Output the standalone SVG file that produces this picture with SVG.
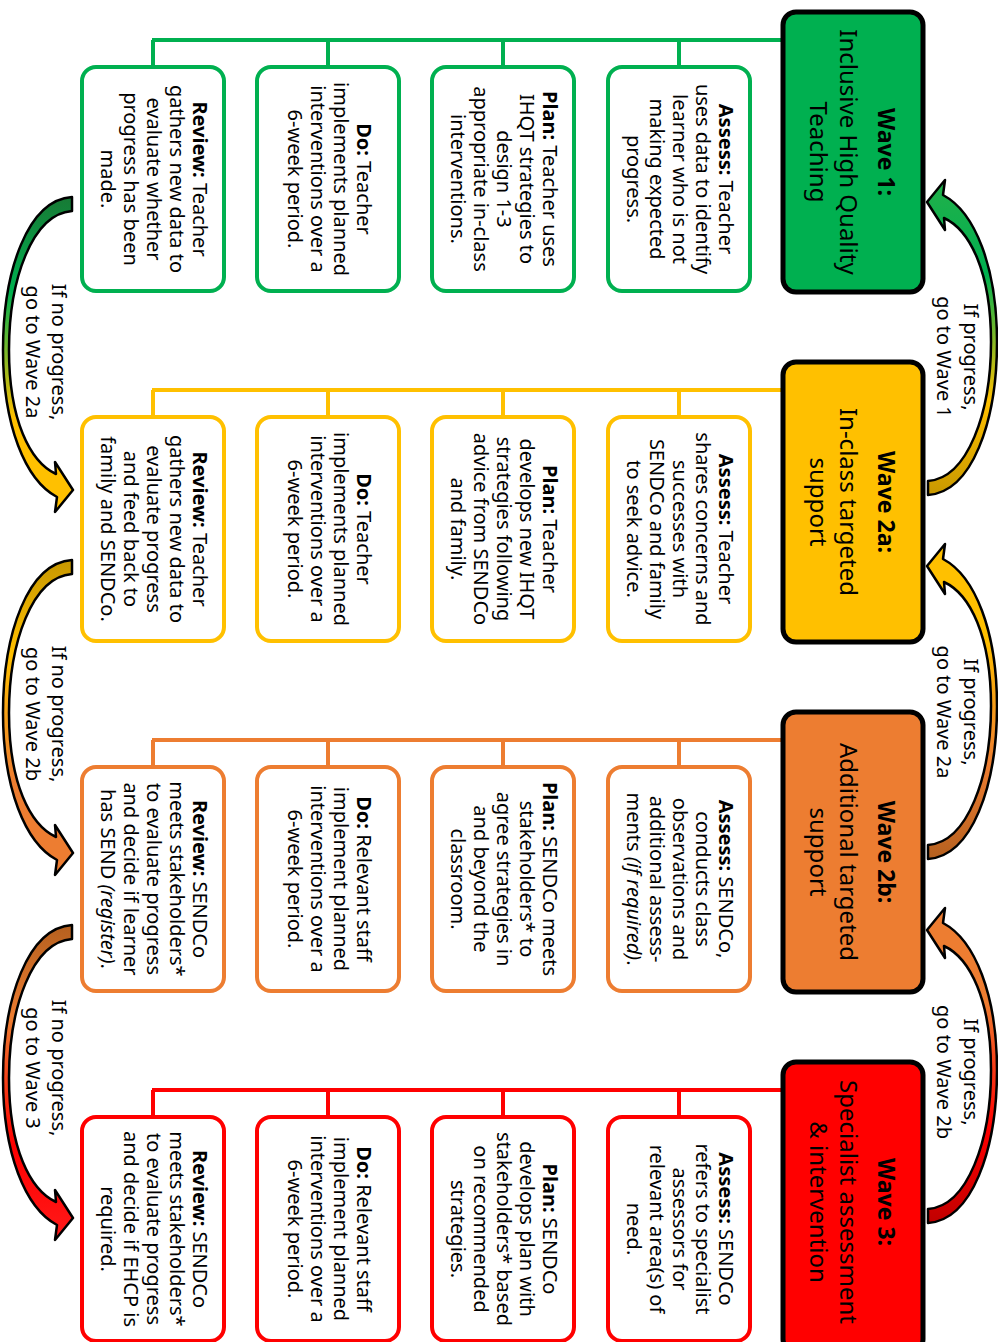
<svg xmlns="http://www.w3.org/2000/svg" width="998" height="1342" viewBox="0 0 998 1342">
<defs>
<linearGradient id="L1" x1="0" y1="0" x2="0" y2="1"><stop offset="0" stop-color="#177a35"/><stop offset="0.3" stop-color="#00b050"/><stop offset="0.7" stop-color="#ffc000"/><stop offset="1" stop-color="#ffc000"/></linearGradient>
<linearGradient id="R1" x1="0" y1="0" x2="0" y2="1"><stop offset="0" stop-color="#c89800"/><stop offset="0.3" stop-color="#ffc000"/><stop offset="0.7" stop-color="#00b050"/><stop offset="1" stop-color="#22b04a"/></linearGradient>
<linearGradient id="L2" x1="0" y1="0" x2="0" y2="1"><stop offset="0" stop-color="#c89800"/><stop offset="0.3" stop-color="#ffc000"/><stop offset="0.7" stop-color="#ed7d31"/><stop offset="1" stop-color="#ed7d31"/></linearGradient>
<linearGradient id="R2" x1="0" y1="0" x2="0" y2="1"><stop offset="0" stop-color="#b5601f"/><stop offset="0.3" stop-color="#ed7d31"/><stop offset="0.7" stop-color="#ffc000"/><stop offset="1" stop-color="#ffc000"/></linearGradient>
<linearGradient id="L3" x1="0" y1="0" x2="0" y2="1"><stop offset="0" stop-color="#b5601f"/><stop offset="0.3" stop-color="#ed7d31"/><stop offset="0.7" stop-color="#ff0000"/><stop offset="1" stop-color="#ff1a1a"/></linearGradient>
<linearGradient id="R3" x1="0" y1="0" x2="0" y2="1"><stop offset="0" stop-color="#c00000"/><stop offset="0.3" stop-color="#ff0000"/><stop offset="0.7" stop-color="#ed7d31"/><stop offset="1" stop-color="#ed7d31"/></linearGradient>
<path id="curve" d="M72,197 C28,200 3,270 3,350 C3,425 25,480 57,497 L55,512 L73,490 L55,462 L56,474 C30,462 9,420 9,350 C9,280 32,214 72,211 Z"/>
</defs>
<style>
text{font-family:"Noto Sans","DejaVu Sans",sans-serif;fill:#000}
.st{font-size:20px;text-anchor:middle}
.wt{font-size:24px;text-anchor:middle}
.wh{font-size:23px;font-weight:bold}
.lbl{font-size:20px;text-anchor:middle}
.b{font-weight:bold}
.i{font-style:italic}
.step{fill:#fff;stroke-width:4}
.wave{stroke:#000;stroke-width:5}
.ln{fill:none;stroke-width:4}
.arrow{stroke:#000;stroke-width:2.5;stroke-linejoin:round}
.cg{stroke:#00b050}
.cy{stroke:#ffc000}
.co{stroke:#ed7d31}
.cr{stroke:#ff0000}
</style>
<rect width="998" height="1342" fill="#fff"/>

<g id="connectors">
<path class="ln cg" d="M152,40 H785 M153,40 V67 M328,40 V67 M503,40 V67 M679,40 V67"/>
<path class="ln cy" d="M152,390 H785 M153,390 V417 M328,390 V417 M503,390 V417 M679,390 V417"/>
<path class="ln co" d="M152,740 H785 M153,740 V767 M328,740 V767 M503,740 V767 M679,740 V767"/>
<path class="ln cr" d="M152,1090 H785 M153,1090 V1117 M328,1090 V1117 M503,1090 V1117 M679,1090 V1117"/>
<use href="#curve" class="arrow" fill="url(#L1)" transform="translate(0,0)"/>
<use href="#curve" class="arrow" fill="url(#L2)" transform="translate(0,363)"/>
<use href="#curve" class="arrow" fill="url(#L3)" transform="translate(0,728)"/>
<use href="#curve" class="arrow" fill="url(#R1)" transform="translate(1000,692) scale(-1,-1)"/>
<use href="#curve" class="arrow" fill="url(#R2)" transform="translate(1000,1056) scale(-1,-1)"/>
<use href="#curve" class="arrow" fill="url(#R3)" transform="translate(1000,1420) scale(-1,-1)"/>
<text class="lbl" transform="translate(40,352) rotate(90)"><tspan x="0" y="-12">If no progress,</tspan><tspan x="0" y="14">go to Wave 2a</tspan></text>
<text class="lbl" transform="translate(40,714) rotate(90)"><tspan x="0" y="-12">If no progress,</tspan><tspan x="0" y="14">go to Wave 2b</tspan></text>
<text class="lbl" transform="translate(40,1068) rotate(90)"><tspan x="0" y="-12">If no progress,</tspan><tspan x="0" y="14">go to Wave 3</tspan></text>
<text class="lbl" transform="translate(950,357) rotate(90)"><tspan x="0" y="-14">If progress,</tspan><tspan x="0" y="13">go to Wave 1</tspan></text>
<text class="lbl" transform="translate(950,712) rotate(90)"><tspan x="0" y="-14">If progress,</tspan><tspan x="0" y="13">go to Wave 2a</tspan></text>
<text class="lbl" transform="translate(950,1072) rotate(90)"><tspan x="0" y="-14">If progress,</tspan><tspan x="0" y="13">go to Wave 2b</tspan></text>
</g>

<g id="wave1">
<rect class="wave" x="783" y="12" width="140" height="280" rx="13" fill="#00b050"/>
<text class="wt" transform="translate(853,152) rotate(90)"><tspan class="wh" x="0" y="-25">Wave 1:</tspan><tspan x="0" y="13">Inclusive High Quality</tspan><tspan x="0" y="43">Teaching</tspan></text>
</g>
<g id="wave2a">
<rect class="wave" x="783" y="362" width="140" height="280" rx="13" fill="#ffc000"/>
<text class="wt" transform="translate(853,502) rotate(90)"><tspan class="wh" x="0" y="-25">Wave 2a:</tspan><tspan x="0" y="13">In-class targeted</tspan><tspan x="0" y="43">support</tspan></text>
</g>
<g id="wave2b">
<rect class="wave" x="783" y="712" width="140" height="280" rx="13" fill="#ed7d31"/>
<text class="wt" transform="translate(853,852) rotate(90)"><tspan class="wh" x="0" y="-25">Wave 2b:</tspan><tspan x="0" y="13">Additional targeted</tspan><tspan x="0" y="43">support</tspan></text>
</g>
<g id="wave3">
<rect class="wave" x="783" y="1062" width="140" height="290" rx="13" fill="#ff0000"/>
<text class="wt" transform="translate(853,1202) rotate(90)"><tspan class="wh" x="0" y="-25">Wave 3:</tspan><tspan x="0" y="13">Specialist assessment</tspan><tspan x="0" y="43">&amp; intervention</tspan></text>
</g>

<g id="w1-assess">
<rect class="step cg" x="608" y="67" width="142" height="224" rx="14"/>
<text class="st" transform="translate(679,179) rotate(90)"><tspan x="0" y="-40"><tspan class="b">Assess:</tspan> Teacher</tspan><tspan x="0" dy="23">uses data to identify</tspan><tspan x="0" dy="23">learner who is not</tspan><tspan x="0" dy="23">making expected</tspan><tspan x="0" dy="23">progress.</tspan></text>
</g>
<g id="w1-plan">
<rect class="step cg" x="432" y="67" width="142" height="224" rx="14"/>
<text class="st" transform="translate(503,179) rotate(90)"><tspan x="0" y="-40"><tspan class="b">Plan:</tspan> Teacher uses</tspan><tspan x="0" dy="23">IHQT strategies to</tspan><tspan x="0" dy="23">design 1-3</tspan><tspan x="0" dy="23">appropriate in-class</tspan><tspan x="0" dy="23">interventions.</tspan></text>
</g>
<g id="w1-do">
<rect class="step cg" x="257" y="67" width="142" height="224" rx="14"/>
<text class="st" transform="translate(328,179) rotate(90)"><tspan x="0" y="-29"><tspan class="b">Do:</tspan> Teacher</tspan><tspan x="0" dy="23">implements planned</tspan><tspan x="0" dy="23">interventions over a</tspan><tspan x="0" dy="23">6-week period.</tspan></text>
</g>
<g id="w1-review">
<rect class="step cg" x="82" y="67" width="142" height="224" rx="14"/>
<text class="st" transform="translate(153,179) rotate(90)"><tspan x="0" y="-40"><tspan class="b">Review:</tspan> Teacher</tspan><tspan x="0" dy="23">gathers new data to</tspan><tspan x="0" dy="23">evaluate whether</tspan><tspan x="0" dy="23">progress has been</tspan><tspan x="0" dy="23">made.</tspan></text>
</g>

<g id="w2a-assess">
<rect class="step cy" x="608" y="417" width="142" height="224" rx="14"/>
<text class="st" transform="translate(679,529) rotate(90)"><tspan x="0" y="-40"><tspan class="b">Assess:</tspan> Teacher</tspan><tspan x="0" dy="23">shares concerns and</tspan><tspan x="0" dy="23">successes with</tspan><tspan x="0" dy="23">SENDCo and family</tspan><tspan x="0" dy="23">to seek advice.</tspan></text>
</g>
<g id="w2a-plan">
<rect class="step cy" x="432" y="417" width="142" height="224" rx="14"/>
<text class="st" transform="translate(503,529) rotate(90)"><tspan x="0" y="-40"><tspan class="b">Plan:</tspan> Teacher</tspan><tspan x="0" dy="23">develops new IHQT</tspan><tspan x="0" dy="23">strategies following</tspan><tspan x="0" dy="23">advice from SENDCo</tspan><tspan x="0" dy="23">and family.</tspan></text>
</g>
<g id="w2a-do">
<rect class="step cy" x="257" y="417" width="142" height="224" rx="14"/>
<text class="st" transform="translate(328,529) rotate(90)"><tspan x="0" y="-29"><tspan class="b">Do:</tspan> Teacher</tspan><tspan x="0" dy="23">implements planned</tspan><tspan x="0" dy="23">interventions over a</tspan><tspan x="0" dy="23">6-week period.</tspan></text>
</g>
<g id="w2a-review">
<rect class="step cy" x="82" y="417" width="142" height="224" rx="14"/>
<text class="st" transform="translate(153,529) rotate(90)"><tspan x="0" y="-40"><tspan class="b">Review:</tspan> Teacher</tspan><tspan x="0" dy="23">gathers new data to</tspan><tspan x="0" dy="23">evaluate progress</tspan><tspan x="0" dy="23">and feed back to</tspan><tspan x="0" dy="23">family and SENDCo.</tspan></text>
</g>

<g id="w2b-assess">
<rect class="step co" x="608" y="767" width="142" height="224" rx="14"/>
<text class="st" transform="translate(679,879) rotate(90)"><tspan x="0" y="-40"><tspan class="b">Assess:</tspan> SENDCo,</tspan><tspan x="0" dy="23">conducts class</tspan><tspan x="0" dy="23">observations and</tspan><tspan x="0" dy="23">additional assess-</tspan><tspan x="0" dy="23">ments <tspan class="i">(if required)</tspan>.</tspan></text>
</g>
<g id="w2b-plan">
<rect class="step co" x="432" y="767" width="142" height="224" rx="14"/>
<text class="st" transform="translate(503,879) rotate(90)"><tspan x="0" y="-40"><tspan class="b">Plan:</tspan> SENDCo meets</tspan><tspan x="0" dy="23">stakeholders* to</tspan><tspan x="0" dy="23">agree strategies in</tspan><tspan x="0" dy="23">and beyond the</tspan><tspan x="0" dy="23">classroom.</tspan></text>
</g>
<g id="w2b-do">
<rect class="step co" x="257" y="767" width="142" height="224" rx="14"/>
<text class="st" transform="translate(328,879) rotate(90)"><tspan x="0" y="-29"><tspan class="b">Do:</tspan> Relevant staff</tspan><tspan x="0" dy="23">implement planned</tspan><tspan x="0" dy="23">interventions over a</tspan><tspan x="0" dy="23">6-week period.</tspan></text>
</g>
<g id="w2b-review">
<rect class="step co" x="82" y="767" width="142" height="224" rx="14"/>
<text class="st" transform="translate(153,879) rotate(90)"><tspan x="0" y="-40"><tspan class="b">Review:</tspan> SENDCo</tspan><tspan x="0" dy="23">meets stakeholders*</tspan><tspan x="0" dy="23">to evaluate progress</tspan><tspan x="0" dy="23">and decide if learner</tspan><tspan x="0" dy="23">has SEND <tspan class="i">(register)</tspan>.</tspan></text>
</g>

<g id="w3-assess">
<rect class="step cr" x="608" y="1117" width="142" height="224" rx="14"/>
<text class="st" transform="translate(679,1229) rotate(90)"><tspan x="0" y="-40"><tspan class="b">Assess:</tspan> SENDCo</tspan><tspan x="0" dy="23">refers to specialist</tspan><tspan x="0" dy="23">assessors for</tspan><tspan x="0" dy="23">relevant area(s) of</tspan><tspan x="0" dy="23">need.</tspan></text>
</g>
<g id="w3-plan">
<rect class="step cr" x="432" y="1117" width="142" height="224" rx="14"/>
<text class="st" transform="translate(503,1229) rotate(90)"><tspan x="0" y="-40"><tspan class="b">Plan:</tspan> SENDCo</tspan><tspan x="0" dy="23">develops plan with</tspan><tspan x="0" dy="23">stakeholders* based</tspan><tspan x="0" dy="23">on recommended</tspan><tspan x="0" dy="23">strategies.</tspan></text>
</g>
<g id="w3-do">
<rect class="step cr" x="257" y="1117" width="142" height="224" rx="14"/>
<text class="st" transform="translate(328,1229) rotate(90)"><tspan x="0" y="-29"><tspan class="b">Do:</tspan> Relevant staff</tspan><tspan x="0" dy="23">implement planned</tspan><tspan x="0" dy="23">interventions over a</tspan><tspan x="0" dy="23">6-week period.</tspan></text>
</g>
<g id="w3-review">
<rect class="step cr" x="82" y="1117" width="142" height="224" rx="14"/>
<text class="st" transform="translate(153,1229) rotate(90)"><tspan x="0" y="-40"><tspan class="b">Review:</tspan> SENDCo</tspan><tspan x="0" dy="23">meets stakeholders*</tspan><tspan x="0" dy="23">to evaluate progress</tspan><tspan x="0" dy="23">and decide if EHCP is</tspan><tspan x="0" dy="23">required.</tspan></text>
</g>
</svg>
